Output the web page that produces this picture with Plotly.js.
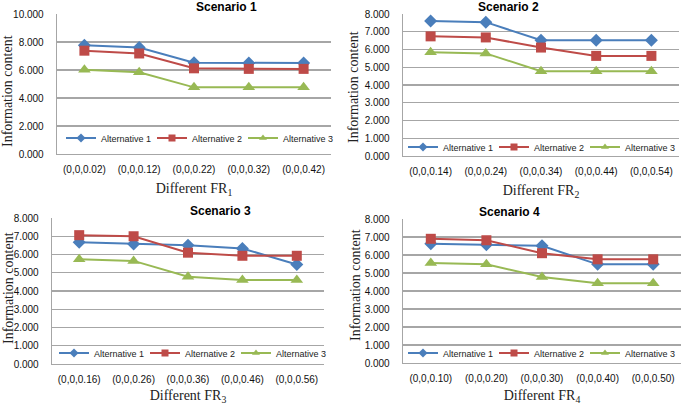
<!DOCTYPE html>
<html>
<head>
<meta charset="utf-8">
<script src="https://cdn.plot.ly/plotly-3.0.1.min.js"></script>
<style>
html,body{margin:0;padding:0;background:#fff;}
#chart{width:685px;height:405px;}
</style>
</head>
<body>
<div id="chart"></div>
<script>
// ---- data ----
const seriesNames = ["Alternative 1", "Alternative 2", "Alternative 3"];

const scenarioTitles = ["Scenario 1", "Scenario 2", "Scenario 3", "Scenario 4"];
const xTitles = ["Different FR<sub>1</sub>", "Different FR<sub>2</sub>", "Different FR<sub>3</sub>", "Different FR<sub>4</sub>"];
const yTitle = "Information content";

const cats1 = ["(0,0,0.02)", "(0,0,0.12)", "(0,0,0.22)", "(0,0,0.32)", "(0,0,0.42)"];
const cats2 = ["(0,0,0.14)", "(0,0,0.24)", "(0,0,0.34)", "(0,0,0.44)", "(0,0,0.54)"];
const cats3 = ["(0,0,0.16)", "(0,0,0.26)", "(0,0,0.36)", "(0,0,0.46)", "(0,0,0.56)"];
const cats4 = ["(0,0,0.10)", "(0,0,0.20)", "(0,0,0.30)", "(0,0,0.40)", "(0,0,0.50)"];

const s1alt1 = [7.76, 7.60, 6.52, 6.50, 6.50];
const s1alt2 = [7.38, 7.18, 6.12, 6.08, 6.08];
const s1alt3 = [6.02, 5.84, 4.76, 4.76, 4.76];

const s2alt1 = [7.60, 7.54, 6.52, 6.52, 6.52];
const s2alt2 = [6.74, 6.68, 6.11, 5.64, 5.64];
const s2alt3 = [5.84, 5.78, 4.78, 4.78, 4.78];

const s3alt1 = [6.67, 6.58, 6.51, 6.33, 5.45];
const s3alt2 = [7.06, 7.00, 6.10, 5.93, 5.93];
const s3alt3 = [5.74, 5.65, 4.78, 4.60, 4.60];

const s4alt1 = [6.63, 6.57, 6.51, 5.48, 5.48];
const s4alt2 = [6.90, 6.82, 6.10, 5.76, 5.76];
const s4alt3 = [5.55, 5.48, 4.78, 4.43, 4.43];

const yTicks10 = [0, 2, 4, 6, 8, 10];
const yTicks8 = [0, 1, 2, 3, 4, 5, 6, 7, 8];

// ---- styling ----
const colors = ["#4A7EBB", "#BE4B48", "#98B954"];
const symbols = ["diamond", "square", "triangle-up"];
const msizes = [10, 10, 11];
const legSizes = [7, 7, 7];
const gridColor = "#A6A6A6";
const tickFont = {family: "Liberation Sans, Arial, sans-serif", size: 10, color: "#111"};
const serif = {family: "Liberation Serif, Times New Roman, serif", size: 14, color: "#222"};

const panels = [
  {cats: cats1, data: [s1alt1, s1alt2, s1alt3], ticks: yTicks10, max: 10, xd: [57/685, 331/685], yd: [(405-154)/405, (405-14)/405]},
  {cats: cats2, data: [s2alt1, s2alt2, s2alt3], ticks: yTicks8, max: 8, xd: [403/685, 679/685], yd: [(405-156)/405, (405-14)/405]},
  {cats: cats3, data: [s3alt1, s3alt2, s3alt3], ticks: yTicks8, max: 8, xd: [52/685, 324/685], yd: [(405-364)/405, (405-218)/405]},
  {cats: cats4, data: [s4alt1, s4alt2, s4alt3], ticks: yTicks8, max: 8, xd: [403/685, 681/685], yd: [(405-363)/405, (405-219)/405]}
];
const legendY = [138, 147, 353, 353];
const legendX = [61, 403, 54, 403];
const yTitlePos = [[8, 91], [354, 87], [8, 288], [355, 285]];

const traces = [];
const layout = {
  width: 685, height: 405,
  margin: {l: 0, r: 0, t: 0, b: 0},
  paper_bgcolor: "#fff", plot_bgcolor: "#fff",
  showlegend: true,
  annotations: [],
  font: tickFont
};

panels.forEach((p, i) => {
  const n = i === 0 ? "" : String(i + 1);
  const xa = "x" + n, ya = "y" + n;
  const leg = i === 0 ? "legend" : "legend" + (i + 1);
  p.data.forEach((vals, k) => {
    traces.push({
      type: "scatter", mode: "lines+markers",
      x: p.cats, y: vals, name: seriesNames[k],
      xaxis: xa, yaxis: ya, showlegend: false,
      line: {color: colors[k], width: 2},
      marker: {symbol: symbols[k], size: msizes[k], color: colors[k]},
      cliponaxis: false
    });
  });
  // legend entries (small legend markers like the original)
  p.data.forEach((vals, k) => {
    traces.push({
      type: "scatter", mode: "lines+markers",
      x: [null], y: [null], name: seriesNames[k],
      xaxis: xa, yaxis: ya, legend: leg, showlegend: true,
      line: {color: colors[k], width: 2},
      marker: {symbol: symbols[k], size: legSizes[k], color: colors[k]}
    });
  });
  layout["xaxis" + n] = {
    domain: p.xd, anchor: ya, type: "category",
    range: [-0.5, 4.5],
    showgrid: false, showline: true, linecolor: gridColor, linewidth: 1.3,
    ticks: "", tickfont: tickFont, ticklabelstandoff: 6,
    title: {text: xTitles[i], font: serif, standoff: 9},
    fixedrange: true
  };
  layout["yaxis" + n] = {
    domain: p.yd, anchor: xa,
    range: [0, p.max],
    tickvals: p.ticks, tickformat: ".3f",
    showgrid: true, gridcolor: gridColor, gridwidth: 1.3,
    zeroline: false,
    showline: true, linecolor: gridColor, linewidth: 1.3,
    ticks: "", tickfont: tickFont, ticklabelstandoff: 10,
    fixedrange: true
  };
  layout[leg] = {
    orientation: "h",
    x: legendX[i] / 685, y: (405 - legendY[i]) / 405,
    xanchor: "left", yanchor: "middle",
    bgcolor: "rgba(0,0,0,0)",
    font: {family: "Liberation Sans, Arial, sans-serif", size: 9, color: "#222"},
    itemwidth: 30,
    entrywidth: 46, entrywidthmode: "pixels",
    tracegroupgap: 0
  };
  const xm = (p.xd[0] + p.xd[1]) / 2;
  layout.annotations.push({
    text: "<b>" + scenarioTitles[i] + "</b>",
    xref: "paper", yref: "paper",
    x: xm, y: p.yd[1], yanchor: "bottom", yshift: -2,
    showarrow: false,
    font: {family: "Liberation Sans, Arial, sans-serif", size: 12, color: "#000"}
  });
  layout.annotations.push({
    text: yTitle, textangle: -90,
    xref: "paper", yref: "paper",
    x: yTitlePos[i][0] / 685, y: (405 - yTitlePos[i][1]) / 405,
    xanchor: "center", yanchor: "middle",
    showarrow: false,
    font: serif
  });
});

Plotly.newPlot("chart", traces, layout, {staticPlot: true, displayModeBar: false});
</script>
</body>
</html>
